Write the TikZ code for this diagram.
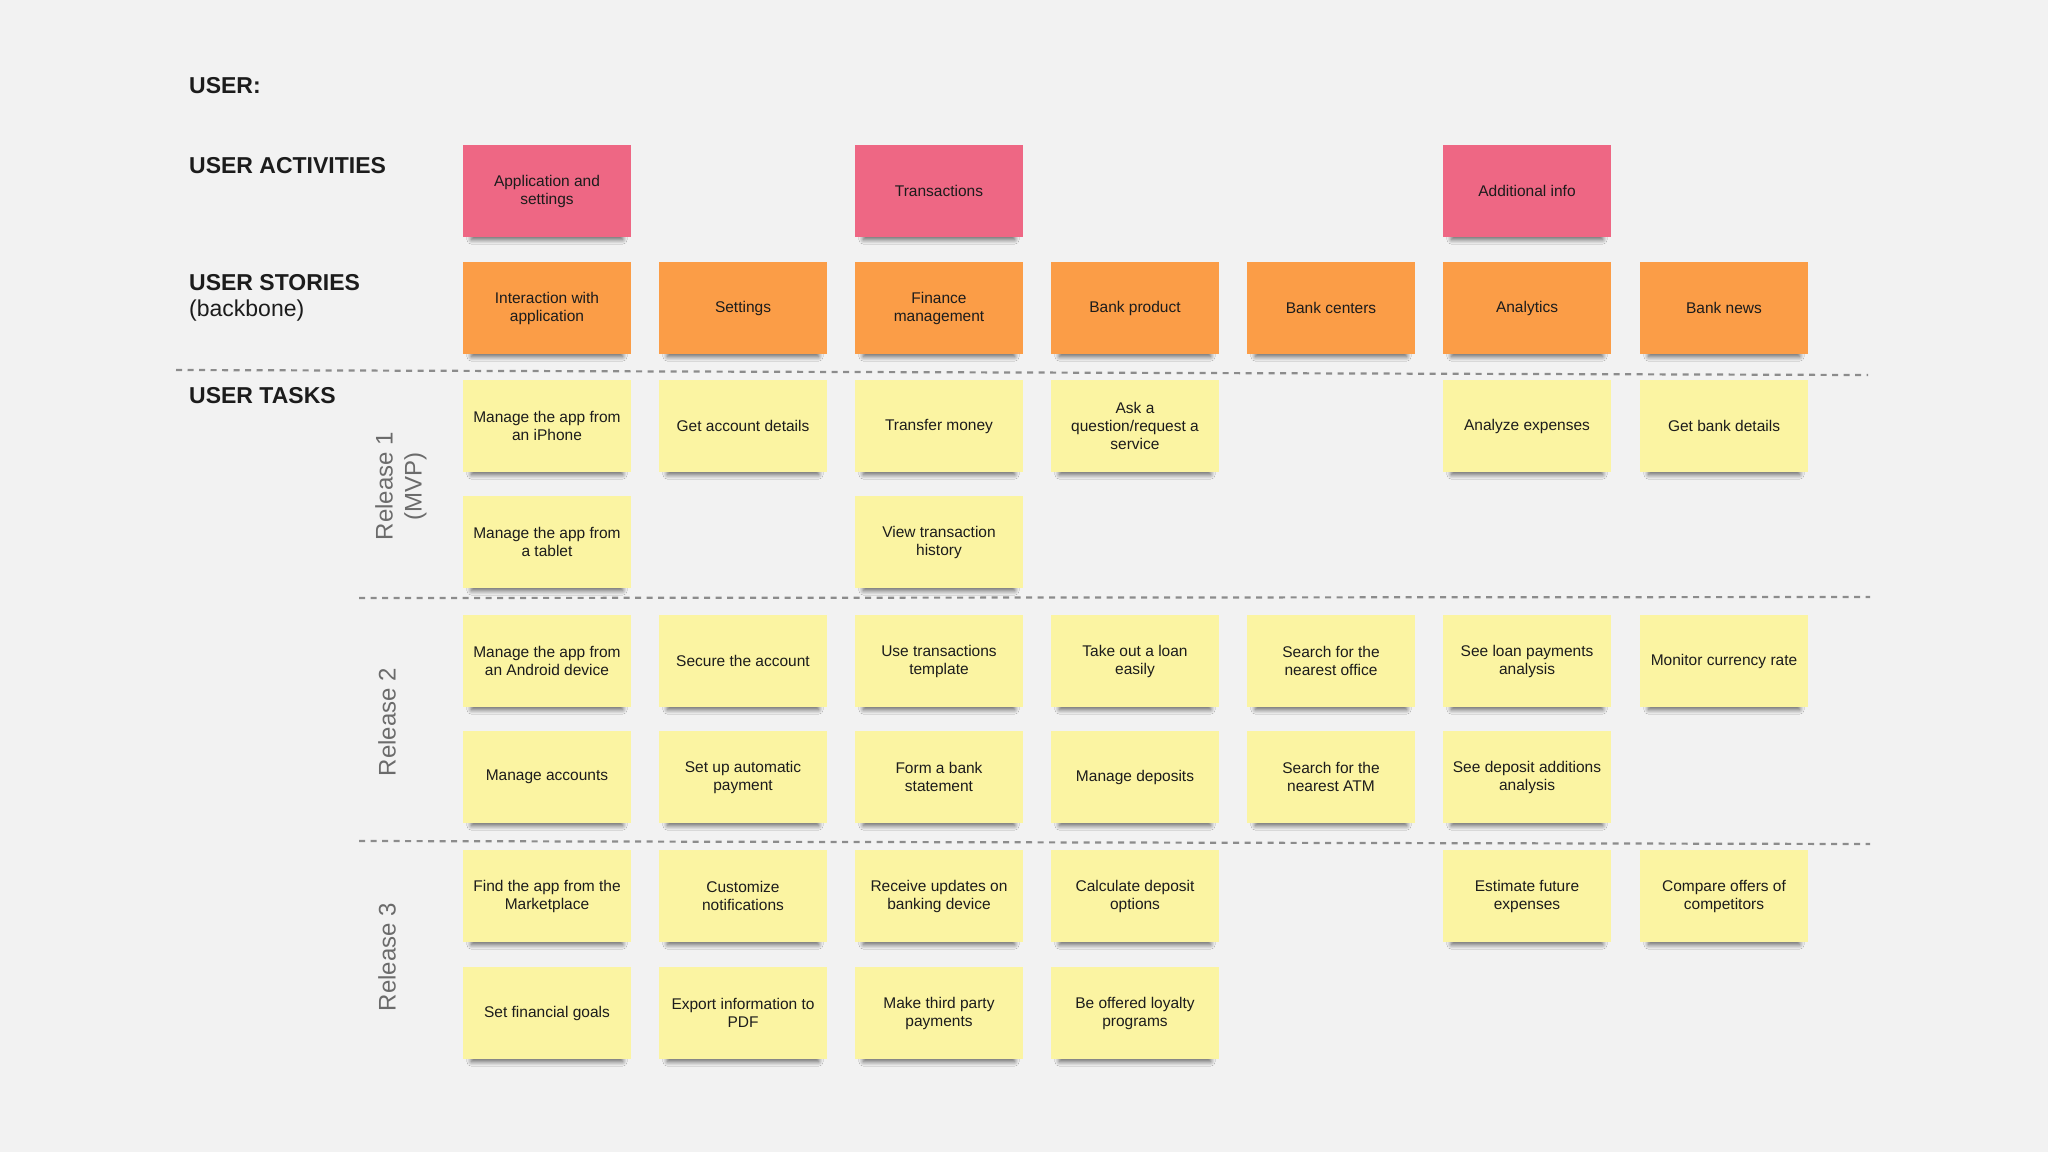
\documentclass[tikz,border=0pt]{standalone}
\usepackage{fontspec}
\setmainfont{Liberation Sans}
\usetikzlibrary{shadows.blur}
\definecolor{bgc}{HTML}{F2F2F2}
\definecolor{pinkc}{HTML}{EE6784}
\definecolor{orangec}{HTML}{FB9D47}
\definecolor{yellowc}{HTML}{FBF4A2}
\definecolor{inkc}{HTML}{1C1C1C}
\definecolor{graytext}{HTML}{6B6B6B}
\definecolor{dashc}{HTML}{8C8C8C}
\begin{document}
\begin{tikzpicture}[x=1pt,y=-1pt,
 note/.style={minimum width=168pt,minimum height=92pt,inner sep=2pt,align=center,text=inkc,
   font=\fontsize{15.5}{18}\selectfont,
   blur shadow={shadow xshift=0pt,shadow yshift=-8pt,shadow scale=0.9,shadow opacity=60,shadow blur radius=5pt,shadow blur steps=12}},
 act/.style={note,fill=pinkc},
 story/.style={note,fill=orangec},
 task/.style={note,fill=yellowc},
 head/.style={anchor=west,inner sep=0pt,font=\bfseries\fontsize{23}{27}\selectfont,text=inkc},
 subhead/.style={anchor=west,inner sep=0pt,font=\fontsize{23}{27}\selectfont,text=inkc},
 rel/.style={rotate=90,align=center,inner sep=0pt,font=\fontsize{24}{29}\selectfont,text=graytext},
 sep/.style={draw=dashc,line width=2.2pt,dash pattern=on 6pt off 5.5pt}
]
\path[use as bounding box,fill=bgc] (0,0) rectangle (2048,1152);

% headings
\node[head] (huser) at (189,86) {USER:};
\node[head] (hact) at (189,166) {USER ACTIVITIES};
\node[head] (hstory) at (189,283) {USER STORIES};
\node[subhead] (hback) at (189,311) {(backbone)};
\node[head] (htask) at (189,396) {USER TASKS};

% release labels
\node[rel] (r1) at (401,486) {Release 1\\(MVP)};
\node[rel] (r2) at (387,722) {Release 2};
\node[rel] (r3) at (387,957) {Release 3};

% separators
\coordinate (d1a) at (176,370); \coordinate (d1b) at (1868,375);
\coordinate (d2a) at (359,598); \coordinate (d2b) at (1870,597);
\coordinate (d3a) at (359,841); \coordinate (d3b) at (1870,844);
\draw[sep] (d1a) -- (d1b);
\draw[sep] (d2a) -- (d2b);
\draw[sep] (d3a) -- (d3b);

% user activities
\node[act] (a1) at (547,191) {Application and\\settings};
\node[act] (a3) at (939,191) {Transactions};
\node[act] (a6) at (1527,191) {Additional info};

% user stories
\node[story] (s1) at (547,308) {Interaction with\\application};
\node[story] (s2) at (743,308) {Settings};
\node[story] (s3) at (939,308) {Finance\\management};
\node[story] (s4) at (1135,308) {Bank product};
\node[story] (s5) at (1331,308) {Bank centers};
\node[story] (s6) at (1527,308) {Analytics};
\node[story] (s7) at (1724,308) {Bank news};

% release 1
\node[task] (t11) at (547,426) {Manage the app from\\an iPhone};
\node[task] (t12) at (743,426) {Get account details};
\node[task] (t13) at (939,426) {Transfer money};
\node[task] (t14) at (1135,426) {Ask a\\question/request a\\service};
\node[task] (t16) at (1527,426) {Analyze expenses};
\node[task] (t17) at (1724,426) {Get bank details};
\node[task] (t21) at (547,542) {Manage the app from\\a tablet};
\node[task] (t23) at (939,542) {View transaction\\history};

% release 2
\node[task] (t31) at (547,661) {Manage the app from\\an Android device};
\node[task] (t32) at (743,661) {Secure the account};
\node[task] (t33) at (939,661) {Use transactions\\template};
\node[task] (t34) at (1135,661) {Take out a loan\\easily};
\node[task] (t35) at (1331,661) {Search for the\\nearest office};
\node[task] (t36) at (1527,661) {See loan payments\\analysis};
\node[task] (t37) at (1724,661) {Monitor currency rate};
\node[task] (t41) at (547,777) {Manage accounts};
\node[task] (t42) at (743,777) {Set up automatic\\payment};
\node[task] (t43) at (939,777) {Form a bank\\statement};
\node[task] (t44) at (1135,777) {Manage deposits};
\node[task] (t45) at (1331,777) {Search for the\\nearest ATM};
\node[task] (t46) at (1527,777) {See deposit additions\\analysis};

% release 3
\node[task] (t51) at (547,896) {Find the app from the\\Marketplace};
\node[task] (t52) at (743,896) {Customize\\notifications};
\node[task] (t53) at (939,896) {Receive updates on\\banking device};
\node[task] (t54) at (1135,896) {Calculate deposit\\options};
\node[task] (t56) at (1527,896) {Estimate future\\expenses};
\node[task] (t57) at (1724,896) {Compare offers of\\competitors};
\node[task] (t61) at (547,1013) {Set financial goals};
\node[task] (t62) at (743,1013) {Export information to\\PDF};
\node[task] (t63) at (939,1013) {Make third party\\payments};
\node[task] (t64) at (1135,1013) {Be offered loyalty\\programs};
\end{tikzpicture}
\end{document}
